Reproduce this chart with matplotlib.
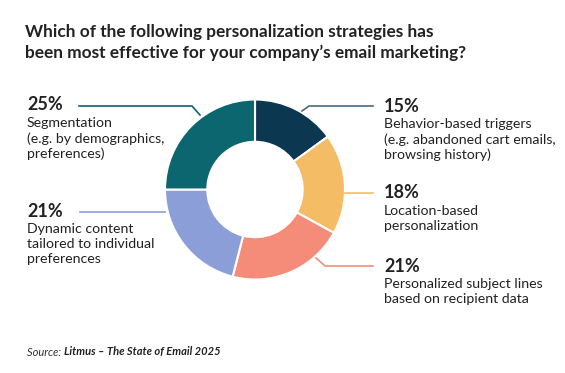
import matplotlib.pyplot as plt
from matplotlib.lines import Line2D

W, H = 565, 373

labels = ['Behavior-based triggers\n(e.g. abandoned cart emails,\nbrowsing history)',
          'Location-based\npersonalization',
          'Personalized subject lines\nbased on recipient data',
          'Dynamic content\ntailored to individual\npreferences',
          'Segmentation\n(e.g. by demographics,\npreferences)']
values = [15, 18, 21, 21, 25]
colors = ['#0c3750', '#f5bc66', '#f58c79', '#8b9ed8', '#0b6670']
line_colors = ['#4d6a80', '#f5bc66', '#f58c79', '#8b9ed8', '#0b6670']

plt.rcParams['font.family'] = ['Lato', 'DejaVu Sans']
txt = '#222222'


def fx(x):
    return x / W


def fy(y):
    return 1 - y / H


fig = plt.figure(figsize=(W / 100, H / 100), dpi=100)

# donut
cx, cy, r = 255, 189.5, 90
ax = fig.add_axes([fx(cx - r), fy(cy + r), 2 * r / W, 2 * r / H])
ax.pie(values, colors=colors, startangle=90, counterclock=False,
       radius=1, wedgeprops=dict(width=0.47, edgecolor='white', linewidth=1.5))
ax.set_xlim(-1, 1)
ax.set_ylim(-1, 1)
ax.axis('off')

# title
fig.text(fx(25), fy(32), 'Which of the following personalization strategies has',
         fontsize=12.4, fontweight='bold', color=txt, va='center')
fig.text(fx(25), fy(53), 'been most effective for your company\u2019s email marketing?',
         fontsize=12.4, fontweight='bold', color=txt, va='center')

# label positions (x, y of percentage)
pos = [(384, 106), (384, 193), (384, 266), (27, 211), (27, 105)]
leaders = [
    [(302, 111), (309, 106), (373, 106)],
    [(345, 193), (373, 193)],
    [(316, 258), (325, 266), (373, 266)],
    [(80, 211.5), (165, 211.5)],
    [(79, 106), (192, 106), (200, 115)],
]

for i in range(len(values)):
    x, y = pos[i]
    fig.text(fx(x), fy(y), f'{values[i]}%', fontsize=13, fontweight='bold',
             color=txt, va='center')
    fig.text(fx(x), fy(y + 12), labels[i], fontsize=10.2, color=txt,
             va='top', linespacing=1.3)
    pts = leaders[i]
    fig.add_artist(Line2D([fx(p[0]) for p in pts], [fy(p[1]) for p in pts],
                          color=line_colors[i], lw=1.2))

# source
src = fig.text(fx(27), fy(352), 'Source: ', fontsize=8, style='italic',
               color='#333333', va='center')
fig.canvas.draw()
bb = src.get_window_extent()
fig.text(bb.x1 / W, fy(352), 'Litmus \u2013 The State of Email 2025', fontsize=8,
         style='italic', fontweight='bold', color=txt, va='center')

fig.savefig('out.png', dpi=100, facecolor='white')
